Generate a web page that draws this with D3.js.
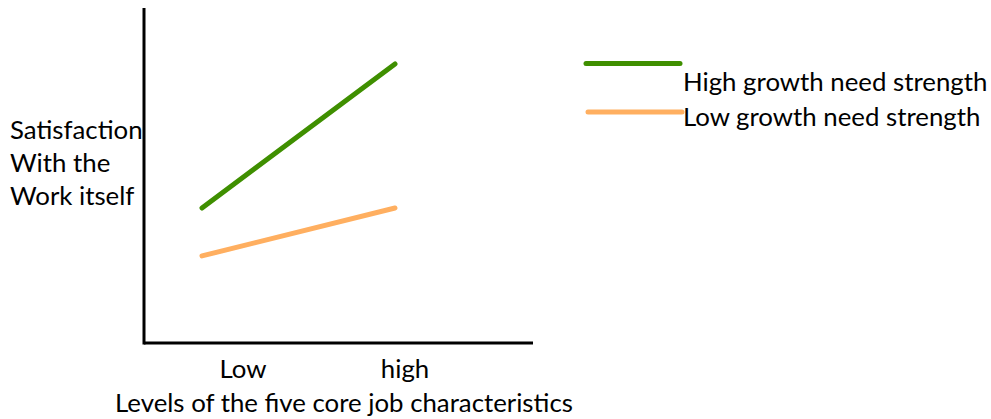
<!DOCTYPE html>
<html><head><meta charset="utf-8">
<script src="https://cdn.jsdelivr.net/npm/d3@7"></script>
<style>html,body{margin:0;padding:0;background:#fff;}svg{display:block;}text{font-family:Lato,"Open Sans",sans-serif;fill:#000;}</style>
</head><body>
<script>
const categories = ["Low", "high"];
const highGNS = [40.3, 83.3];
const lowGNS = [26, 40.3];
const seriesNames = ["High growth need strength", "Low growth need strength"];
const seriesColors = ["#3f8f00", "#ffaf60"];
const yLabelLines = ["Satisfaction", "With the", "Work itself"];
const xTitle = "Levels of the five core job characteristics";

const W = 991, H = 419;
const svg = d3.select("body").append("svg").attr("width", W).attr("height", H);
const fs = 25.8;

const y = d3.scaleLinear().domain([0, 100]).range([343, 8]);
const x = d3.scalePoint().domain(categories).range([202, 395]);
const xLab = d3.scalePoint().domain(categories).range([243, 405]);

// axes
svg.append("line").attr("x1", 144).attr("x2", 144).attr("y1", y(100)).attr("y2", y(0) + 1.5)
  .attr("stroke", "#000").attr("stroke-width", 3);
svg.append("line").attr("x1", 144).attr("x2", 533).attr("y1", y(0)).attr("y2", y(0))
  .attr("stroke", "#000").attr("stroke-width", 3);

const line = d3.line().x((d, i) => x(categories[i])).y(d => y(d));
[highGNS, lowGNS].forEach((s, k) => {
  svg.append("path").attr("d", line(s)).attr("fill", "none")
    .attr("stroke", seriesColors[k]).attr("stroke-width", 5).attr("stroke-linecap", "round");
});

// tick labels
svg.selectAll(".tl").data(categories).enter().append("text")
  .attr("x", d => xLab(d)).attr("y", 378).attr("text-anchor", "middle")
  .attr("font-size", fs).text(d => d);

svg.append("text").attr("x", 344).attr("y", 412).attr("text-anchor", "middle")
  .attr("font-size", fs).text(xTitle);

svg.selectAll(".yl").data(yLabelLines).enter().append("text")
  .attr("x", 10).attr("y", (d, i) => 139 + i * 33).attr("font-size", fs).text(d => d);

// legend
const legY = [63.5, 112];
const legTextY = [91, 126];
seriesNames.forEach((n, k) => {
  svg.append("line").attr("x1", 586 + k * 2).attr("x2", 680 + k * 2).attr("y1", legY[k]).attr("y2", legY[k])
    .attr("stroke", seriesColors[k]).attr("stroke-width", 5).attr("stroke-linecap", "round");
  svg.append("text").attr("x", 683).attr("y", legTextY[k]).attr("font-size", fs).text(n);
});
</script>
</body></html>
